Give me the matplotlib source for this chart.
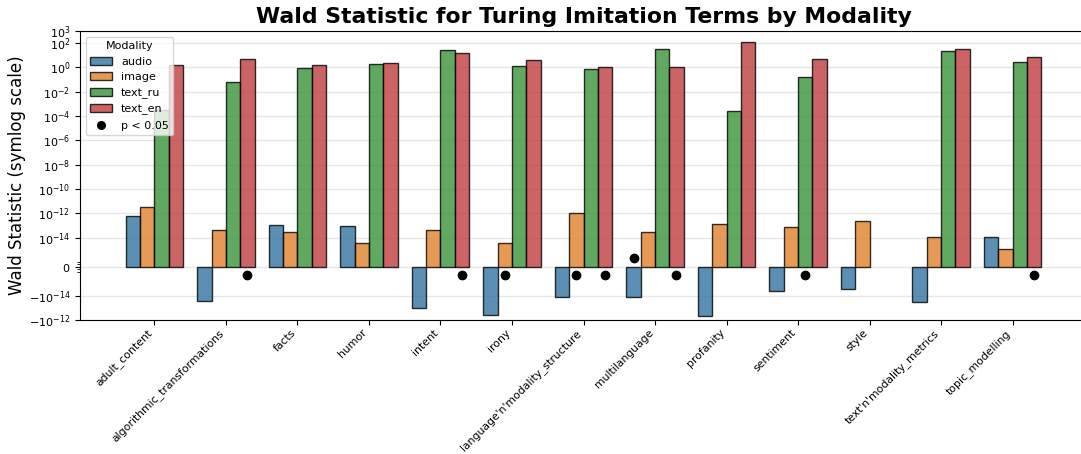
import numpy as np
import matplotlib
matplotlib.use('Agg')
import matplotlib.pyplot as plt
from matplotlib.lines import Line2D
from matplotlib.patches import Patch
from matplotlib.ticker import FixedLocator

categories = ['adult_content', 'algorithmic_transformations', 'facts', 'humor', 'intent', 'irony',
              "language'n'modality_structure", 'multilanguage', 'profanity', 'sentiment', 'style',
              "text'n'modality_metrics", 'topic_modelling']
modalities = ['audio', 'image', 'text_ru', 'text_en']

audio = [6e-13, -2.9e-14, 1.1e-13, 9e-14, -1.0e-13, -3.6e-13, -1.3e-14, -1.3e-14, -4.5e-13,
         -4.5e-15, -2.8e-15, -3.3e-14, 1.2e-14]
image = [3.7e-12, 4e-14, 2.9e-14, 3.6e-15, 4.5e-14, 3.6e-15, 1.2e-12, 3.2e-14, 1.3e-13,
         7.5e-14, 2.3e-13, 1.2e-14, 1.15e-15]
text_ru = [3.3e-4, 0.07, 0.9, 1.9, 27, 1.4, 0.74, 32, 2.9e-4, 0.18, np.nan, 23, 2.9]
text_en = [1.66, 5.2, 1.66, 2.3, 15, 4, 1.2, 1.0, 137, 5.2, np.nan, 35, 7.1]

# p < 0.05 flags
sig_audio = [0, 0, 0, 0, 0, 0, 0, 1, 0, 0, 0, 0, 0]
sig_image = [0, 0, 0, 0, 0, 1, 1, 0, 0, 0, 0, 0, 0]
sig_text_ru = [0, 0, 0, 0, 0, 0, 0, 0, 0, 1, 0, 0, 0]
sig_text_en = [0, 1, 0, 0, 1, 0, 1, 1, 0, 0, 0, 0, 1]

values = [audio, image, text_ru, text_en]
sigs = [sig_audio, sig_image, sig_text_ru, sig_text_en]
colors = ['#3274a1', '#e1812c', '#3a923a', '#c03d3e']

fig = plt.figure(figsize=(10.81, 4.54), dpi=100)
ax = fig.add_axes([80 / 1081, 134 / 454, 1007 / 1081, 289 / 454])

x = np.arange(len(categories))
w = 0.2
for i, (vals, sig, c) in enumerate(zip(values, sigs, colors)):
    pos = x - 0.3 + i * w
    v = np.array(vals, dtype=float)
    ax.bar(pos, v, width=w, color=c, alpha=0.8, edgecolor='black', linewidth=1, zorder=2)
    s = np.array(sig, dtype=bool)
    ax.plot(pos[s], -np.sign(v[s]) * 5e-16, 'o', color='black', ms=6, zorder=3)

ax.set_yscale('symlog', linthresh=1e-15, linscale=1.24)
ax.set_ylim(-1e-12, 1e3)
ax.set_xlim(-1.04, 13.04)
yt = [-1e-12, -1e-14, 0] + [10.0 ** e for e in range(-14, 1, 2)] + [1e2, 1e3]
ax.set_yticks(yt)
ax.yaxis.set_minor_locator(FixedLocator([-3e-16, -1.5e-16, 1.5e-16, 3e-16]))
ax.tick_params(axis='y', labelsize=8)
ax.tick_params(axis='x', pad=2)
ax.grid(axis='y', color='#e6e6e6', lw=1, zorder=0)
ax.set_axisbelow(True)

ax.set_xticks(x)
ax.set_xticklabels(categories, rotation=45, ha='right', fontsize=7.8)
ax.set_ylabel('Wald Statistic (symlog scale)', fontsize=12, labelpad=2)
ax.set_title('Wald Statistic for Turing Imitation Terms by Modality', fontsize=15.75, fontweight='bold')

handles = [Patch(facecolor=c, alpha=0.8, edgecolor='black', label=m) for c, m in zip(colors, modalities)]
handles.append(Line2D([], [], marker='o', color='black', ls='', ms=5.5, label='p < 0.05'))
ax.legend(handles=handles, title='Modality', loc='upper left', fontsize=8, title_fontsize=8)

fig.savefig('out.png', dpi=100)
